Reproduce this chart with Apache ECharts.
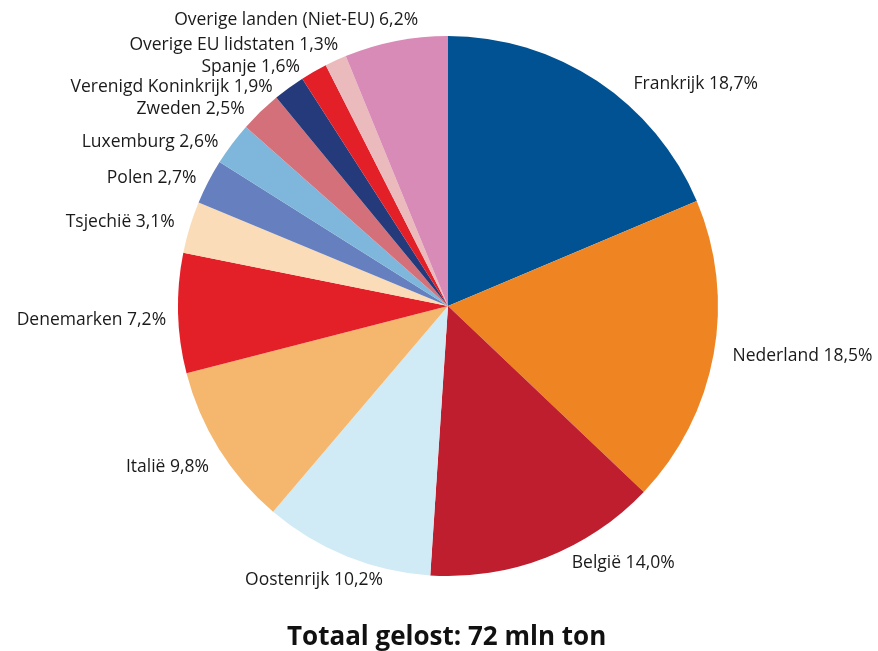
<!DOCTYPE html>
<html>
<head>
<meta charset="utf-8">
<script src="https://cdn.jsdelivr.net/npm/echarts@6/dist/echarts.min.js"></script>
<style>html,body{margin:0;padding:0;background:#fff}#c{width:878px;height:651px}</style>
</head>
<body>
<div id="c"></div>
<script>
const categories = ["Frankrijk","Nederland","België","Oostenrijk","Italië","Denemarken","Tsjechië","Polen","Luxemburg","Zweden","Verenigd Koninkrijk","Spanje","Overige EU lidstaten","Overige landen (Niet-EU)"];
const values = [18.7,18.5,14.0,10.2,9.8,7.2,3.1,2.7,2.6,2.5,1.9,1.6,1.3,6.2];
const colors = ["#005293","#EE8522","#BE1E2D","#D0EAF6","#F5B66D","#E31F27","#FADCB8","#6680BF","#7EB7DB","#D4707A","#253A7A","#E31F27","#EBBABD","#D98BB7"];
const titleText = "Totaal gelost: 72 mln ton";
// small label nudges (pixels) to mimic the reference's hand-placed labels
const labelNudge = [[19,6],[0,1],[9,2],[53,20],[4,16],[2,7],[-1,-4],[2,-2],[0,0],[6,-8],[13,-10],[14,-10],[17,-12],[38,-17]];

const chart = echarts.init(document.getElementById('c'), null, {renderer:'canvas'});
chart.setOption({
  animation:false,
  title:{text:titleText,left:282,top:620,textStyle:{fontFamily:'Open Sans',fontWeight:'bold',fontSize:26,color:'#111'}},
  series:[{
    type:'pie',
    center:[448,306],
    radius:[0,270],
    startAngle:90,
    clockwise:true,
    avoidLabelOverlap:true,
    data:categories.map((n,i)=>({name:n,value:values[i],itemStyle:{color:colors[i]}})),
    label:{show:true,position:'outside',fontFamily:'Open Sans',fontSize:17.5,color:'#1a1a1a',overflow:'none',
      formatter:p=>p.name+' '+p.value.toFixed(1).replace('.',',')+'%'},
    labelLine:{show:false,length:4,length2:10},
    labelLayout:p=>({dx:labelNudge[p.dataIndex][0],dy:labelNudge[p.dataIndex][1]}),
    emphasis:{disabled:true}
  }]
});
</script>
</body>
</html>
